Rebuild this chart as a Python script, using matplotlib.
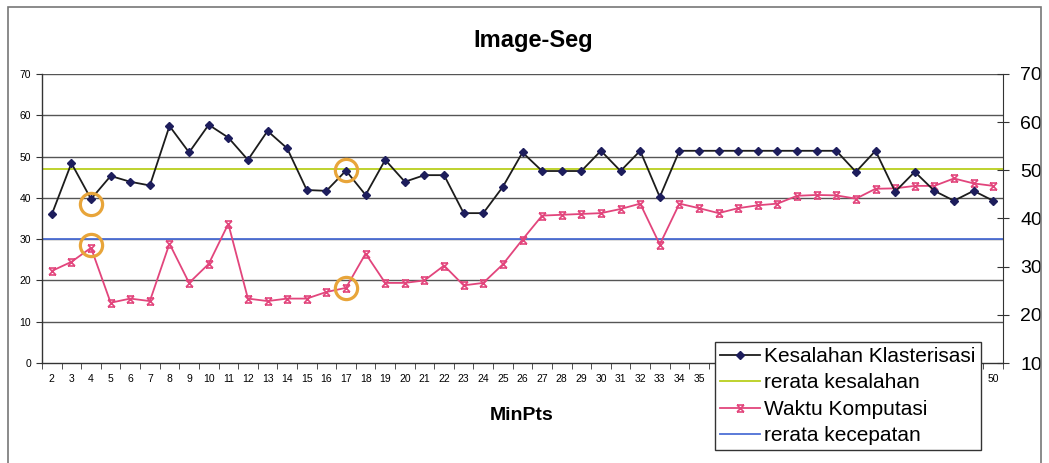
import matplotlib
matplotlib.use("Agg")
import matplotlib.pyplot as plt
from matplotlib.path import Path
from matplotlib.lines import Line2D
from matplotlib.patches import Rectangle

plt.rcParams['font.family'] = ['Liberation Sans', 'DejaVu Sans']

# MinPts on the x axis
minpts = list(range(2, 51))

# Kesalahan Klasterisasi (clustering error)
kesalahan = [36.0, 48.4, 39.7, 45.3, 43.9, 43.0, 57.4, 51.0, 57.7, 54.6,
             49.2, 56.2, 52.0, 41.9, 41.7, 46.6, 40.7, 49.2, 43.9, 45.5,
             45.5, 36.3, 36.3, 42.7, 51.0, 46.5, 46.5, 46.5, 51.4, 46.5,
             51.4, 40.2, 51.4, 51.4, 51.4, 51.4, 51.4, 51.4, 51.4, 51.4,
             51.4, 46.3, 51.4, 41.5, 46.3, 41.7, 39.3, 41.7, 39.3]

# Waktu Komputasi (computation time)
waktu = [22.3, 24.5, 27.9, 14.6, 15.6, 15.0, 28.9, 19.4, 24.0, 33.7,
         15.6, 15.0, 15.6, 15.6, 17.2, 18.2, 26.5, 19.4, 19.4, 20.0,
         23.6, 18.8, 19.4, 23.9, 29.9, 35.7, 35.9, 36.1, 36.3, 37.3,
         38.6, 28.7, 38.6, 37.5, 36.3, 37.5, 38.2, 38.6, 40.5, 40.7,
         40.6, 39.8, 42.2, 42.3, 42.9, 42.9, 44.7, 43.5, 42.9]

rerata_kesalahan = 46.9
rerata_kecepatan = 30.0

# hand-drawn highlight circles (MinPts, value)
circle_x = [4, 4, 17, 17]
circle_y = [38.6, 28.5, 46.7, 18.2]

left_ticks = [0, 10, 20, 30, 40, 50, 60, 70]
right_ticks = [10, 20, 30, 40, 50, 60, 70]

# tick labels hidden behind the legend box in the original
hidden_labels = list(range(36, 50))

# star marker like the old Excel one: an x with bars on top and bottom
star = Path([(-1, -1), (1, 1), (-1, 1), (1, -1), (-1, 1), (1, 1), (-1, -1), (1, -1)],
            [Path.MOVETO, Path.LINETO] * 4)

c_black = '#1c1c1c'
c_navy = '#1d1d5c'
c_pink = '#e2457c'
c_green = '#b9cf1e'
c_blue = '#4d6fd6'
c_orange = '#e8a53a'
c_grid = '#555555'

W, H = 1049, 463
fig = plt.figure(figsize=(W / 100, H / 100), dpi=100)
fig.patches.append(Rectangle((8 / W, -0.1), 1033 / W, 1.1 - 7 / H, transform=fig.transFigure,
                             fill=False, edgecolor='#777777', lw=1.2))

ax = fig.add_axes([42 / W, 100 / H, 961 / W, 289 / H])
ax.set_xlim(1.5, 50.5)
ax.set_ylim(0, 70)

for v in left_ticks[1:]:
    ax.axhline(v, color=c_grid, lw=1.0, zorder=1)

ax.axhline(rerata_kesalahan, color=c_green, lw=1.3, zorder=2)
ax.axhline(rerata_kecepatan, color=c_blue, lw=1.3, zorder=2)

ax.plot(minpts, kesalahan, color=c_black, lw=1.3, marker='D', markersize=4.5,
        markerfacecolor=c_navy, markeredgecolor=c_navy, zorder=4)
ax.plot(minpts, waktu, color=c_pink, lw=1.3, marker=star, markersize=5,
        markeredgewidth=1.2, markeredgecolor=c_pink, zorder=3)

ax.plot(circle_x, circle_y, ls='none', marker='o', markersize=16, markerfacecolor='none',
        markeredgecolor=c_orange, markeredgewidth=2.3, zorder=5)

ax.set_yticks(left_ticks)
ax.tick_params(axis='y', labelsize=7.5, length=4, direction='out', pad=4, color='#333333')
ax.set_xticks(minpts)
ax.set_xticklabels(['' if m in hidden_labels else str(m) for m in minpts])
ax.set_xticks([m + 0.5 for m in range(1, 51)], minor=True)
ax.tick_params(axis='x', which='major', labelsize=7.5, length=0, pad=8)
ax.tick_params(axis='x', which='minor', length=4, direction='out', color='#333333')

for s in ['top', 'right']:
    ax.spines[s].set_visible(False)
for s in ['left', 'bottom']:
    ax.spines[s].set_color('#333333')
    ax.spines[s].set_linewidth(1.0)

ax2 = ax.twinx()
ax2.set_ylim(10, 70)
ax2.set_yticks(right_ticks)
ax2.tick_params(axis='y', labelsize=14, length=9, direction='inout', pad=8, color='#333333')
for s in ['top', 'left', 'bottom']:
    ax2.spines[s].set_visible(False)
ax2.spines['right'].set_color('#333333')

fig.text(533 / W, 1 - 40 / H, 'Image-Seg', ha='center', va='center', fontsize=17, fontweight='bold')
fig.text(522 / W, 1 - 415 / H, 'MinPts', ha='center', va='center', fontsize=14, fontweight='bold')

handles = [
    Line2D([], [], color=c_black, lw=1.3, marker='D', markersize=4.5,
           markerfacecolor=c_navy, markeredgecolor=c_navy),
    Line2D([], [], color=c_green, lw=1.3),
    Line2D([], [], color=c_pink, lw=1.3, marker=star, markersize=5, markeredgewidth=1.2),
    Line2D([], [], color=c_blue, lw=1.3),
]
labels = ['Kesalahan Klasterisasi', 'rerata kesalahan', 'Waktu Komputasi', 'rerata kecepatan']
leg = fig.legend(handles, labels, loc='upper left', bbox_to_anchor=(715 / W, 1 - 342 / H),
                 fontsize=15, handlelength=1.9, handletextpad=0.2, labelspacing=0.35,
                 borderpad=0.25, borderaxespad=0, fancybox=False, framealpha=1,
                 edgecolor='#333333')
leg.get_frame().set_linewidth(1.0)

fig.savefig('out.png', dpi=100)
